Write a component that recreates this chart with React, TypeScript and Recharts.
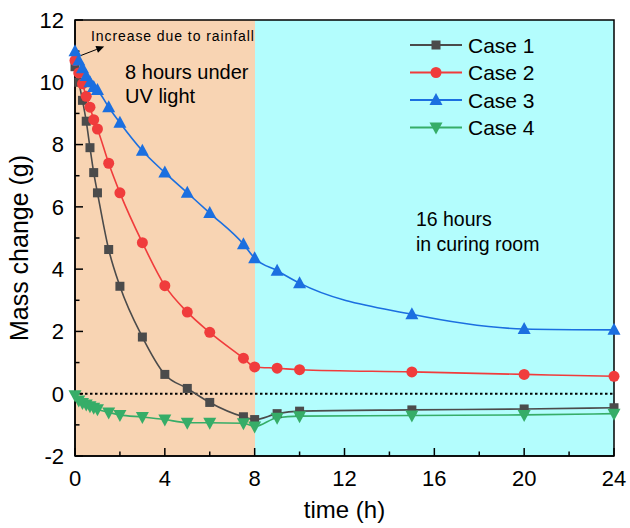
import React from "react";
import { LineChart, Line, XAxis, YAxis, CartesianGrid, ReferenceArea, ReferenceLine, ReferenceDot, Legend } from "recharts";

// sampling times (h)
const times = [0, 0.167, 0.333, 0.5, 0.667, 0.833, 1, 1.5, 2, 3, 4, 5, 6, 7.5, 8, 9, 10, 15, 20, 24];
// mass change (g)
const case1 = [10.5, 10.0, 9.42, 8.75, 7.9, 7.1, 6.45, 4.63, 3.45, 1.82, 0.62, 0.17, -0.28, -0.74, -0.83, -0.64, -0.56, -0.52, -0.49, -0.45];
const case2 = [10.7, 10.3, 9.95, 9.55, 9.2, 8.8, 8.5, 7.4, 6.45, 4.85, 3.47, 2.62, 1.97, 1.14, 0.86, 0.82, 0.77, 0.7, 0.62, 0.56];
const case3 = [11.0, 10.7, 10.45, 10.2, 10.0, 9.85, 9.75, 9.2, 8.7, 7.8, 7.1, 6.45, 5.8, 4.8, 4.35, 3.95, 3.55, 2.55, 2.08, 2.05];
const case4 = [-0.05, -0.22, -0.3, -0.35, -0.4, -0.45, -0.5, -0.6, -0.68, -0.75, -0.83, -0.93, -0.93, -0.95, -1.05, -0.77, -0.72, -0.7, -0.68, -0.64];

const xMajor = [0, 4, 8, 12, 16, 20, 24];
const xMinor = [2, 6, 10, 14, 18, 22];
const yMajor = [-2, 0, 2, 4, 6, 8, 10, 12];
const yMinor = [-1, 1, 3, 5, 7, 9, 11];
const uvEnd = 8;
const tEnd = 24;
const yMin = -2;
const yMax = 12;

const series = [
  { key: "case1", name: "Case 1", color: "#4b4b4b", shape: "square" },
  { key: "case2", name: "Case 2", color: "#f03c3c", shape: "circle" },
  { key: "case3", name: "Case 3", color: "#1b6fe0", shape: "up" },
  { key: "case4", name: "Case 4", color: "#36ad68", shape: "down" },
];

const data = times.map((t, i) => ({ t, case1: case1[i], case2: case2[i], case3: case3[i], case4: case4[i] }));

const FONT = "'Liberation Sans', Arial, sans-serif";

function Marker({ cx, cy, shape, color }: any) {
  if (cx == null || cy == null) return null;
  if (shape === "square") return <rect x={cx - 4.5} y={cy - 4.5} width={9} height={9} fill={color} />;
  if (shape === "circle") return <circle cx={cx} cy={cy} r={5.5} fill={color} />;
  if (shape === "up")
    return <polygon points={`${cx},${cy - 7} ${cx + 6.5},${cy + 5} ${cx - 6.5},${cy + 5}`} fill={color} />;
  return <polygon points={`${cx},${cy + 7} ${cx + 6.5},${cy - 5} ${cx - 6.5},${cy - 5}`} fill={color} />;
}

function Note({ viewBox, lines, size, gap, stretch }: any) {
  const { x, y } = viewBox;
  return (
    <g>
      {lines.map((l: string, i: number) => (
        <text
          key={l}
          x={x}
          y={y + i * gap}
          fontSize={size}
          fill="#000"
          {...(stretch ? { textLength: stretch, lengthAdjust: "spacing" } : {})}
        >
          {l}
        </text>
      ))}
    </g>
  );
}

function Arrow({ x1, y1, x2, y2 }: any) {
  const a = Math.atan2(y2 - y1, x2 - x1);
  const L = 8;
  const w = 3.5;
  const bx = x2 - L * Math.cos(a);
  const by = y2 - L * Math.sin(a);
  const px = -Math.sin(a) * w;
  const py = Math.cos(a) * w;
  return (
    <g>
      <line x1={x1} y1={y1} x2={bx} y2={by} stroke="#000" strokeWidth={1} />
      <polygon points={`${x2},${y2} ${bx + px},${by + py} ${bx - px},${by - py}`} fill="#000" />
    </g>
  );
}

// inward axis ticks; the segment spans the plot corner to corner, (0,yMin) -> (tEnd,yMax)
function InwardTicks({ x1, y1, x2, y2 }: any) {
  const tx = (t: number) => x1 + ((x2 - x1) * t) / tEnd;
  const vy = (v: number) => y1 + ((y2 - y1) * (v - yMin)) / (yMax - yMin);
  const s = { stroke: "#000", strokeWidth: 1.5 };
  return (
    <g>
      {xMajor.map((t) => <line key={`xM${t}`} x1={tx(t)} x2={tx(t)} y1={y1} y2={y1 - 8} {...s} />)}
      {xMinor.map((t) => <line key={`xm${t}`} x1={tx(t)} x2={tx(t)} y1={y1} y2={y1 - 4.5} {...s} />)}
      {yMajor.map((v) => <line key={`yM${v}`} x1={x1} x2={x1 + 8} y1={vy(v)} y2={vy(v)} {...s} />)}
      {yMinor.map((v) => <line key={`ym${v}`} x1={x1} x2={x1 + 4.5} y1={vy(v)} y2={vy(v)} {...s} />)}
    </g>
  );
}

function LegendBox() {
  return (
    <svg width={150} height={112} style={{ fontFamily: FONT }}>
      {series.map((s, i) => {
        const cy = 13 + i * 27.5;
        return (
          <g key={s.key}>
            <line x1={2} x2={54} y1={cy} y2={cy} stroke={s.color} strokeWidth={2} />
            <Marker cx={28} cy={cy} shape={s.shape} color={s.color} />
            <text x={60} y={cy} dy="0.36em" fontSize={21} fill="#000">
              {s.name}
            </text>
          </g>
        );
      })}
    </svg>
  );
}

// phase bands as grid stripes, split where the UV phase ends
const phaseEdges = ({ xAxis, offset }: any) => {
  const px = (t: number) =>
    xAxis && typeof xAxis.scale === "function"
      ? xAxis.scale(t)
      : offset.left + (t / tEnd) * offset.width;
  return [px(0), px(uvEnd)];
};

const axisFont = { fontSize: 22, fill: "#000" };

export default function App() {
  return (
    <div style={{ position: "absolute", left: 0, top: 0, width: 630, height: 528, background: "#fff", fontFamily: FONT }}>
      <LineChart width={630} height={528} data={data} margin={{ top: 20, right: 16, bottom: 0, left: 0 }}>
        <CartesianGrid
          horizontal={false}
          vertical
          stroke="transparent"
          verticalFill={["#f8d4b3", "#b3fdfd"]}
          fillOpacity={1}
          verticalCoordinatesGenerator={phaseEdges}
        />
        <ReferenceLine y={0} stroke="#000" strokeWidth={2} strokeDasharray="2.5 2.5" />
        <ReferenceLine
          segment={[
            { x: 0, y: yMin },
            { x: tEnd, y: yMax },
          ]}
          ifOverflow="visible"
          shape={(p: any) => <InwardTicks {...p} />}
        />
        <ReferenceLine
          segment={[
            { x: 0.12, y: 10.82 },
            { x: 1.3, y: 11.15 },
          ]}
          shape={(p: any) => <Arrow {...p} />}
        />
        <XAxis
          dataKey="t"
          type="number"
          domain={[0, tEnd]}
          ticks={xMajor}
          interval={0}
          tick={axisFont}
          tickSize={-8}
          tickMargin={22}
          tickLine={false}
          axisLine={{ stroke: "#000", strokeWidth: 1.5 }}
          height={72}
          label={{ value: "time (h)", position: "insideBottom", offset: 10, fontSize: 24, fill: "#000" }}
        />
        <YAxis
          type="number"
          domain={[yMin, yMax]}
          ticks={yMajor}
          interval={0}
          tick={axisFont}
          tickSize={-8}
          tickMargin={19}
          tickLine={false}
          axisLine={{ stroke: "#000", strokeWidth: 1.5 }}
          width={75}
          label={{
            content: () => (
              <text x={28} y={248} transform="rotate(-90 28 248)" textAnchor="middle" fontSize={25} fill="#000">
                Mass change (g)
              </text>
            ),
          }}
        />
        <ReferenceArea x1={0} x2={tEnd} y1={yMin} y2={yMax} fill="none" stroke="#000" strokeWidth={1.5} />
        <ReferenceDot
          x={0.71}
          y={11.33}
          r={0}
          fill="none"
          stroke="none"
          label={<Note lines={["Increase due to rainfall"]} size={14} gap={0} stretch={163} />}
        />
        <ReferenceDot
          x={2.23}
          y={10.1}
          r={0}
          fill="none"
          stroke="none"
          label={<Note lines={["8 hours under", "UV light"]} size={20} gap={24} />}
        />
        <ReferenceDot
          x={15.18}
          y={5.38}
          r={0}
          fill="none"
          stroke="none"
          label={<Note lines={["16 hours", "in curing room"]} size={19.5} gap={25} />}
        />
        {series.map((s) => (
          <Line
            key={s.key}
            dataKey={s.key}
            name={s.name}
            type="monotone"
            stroke={s.color}
            strokeWidth={1.6}
            dot={(p: any) => <Marker key={`${s.key}-${p.index}`} cx={p.cx} cy={p.cy} shape={s.shape} color={s.color} />}
            activeDot={false}
            isAnimationActive={false}
          />
        ))}
        <Legend
          layout="horizontal"
          verticalAlign="middle"
          align="center"
          content={() => <LegendBox />}
          wrapperStyle={{ position: "absolute", left: 408, top: 32, width: 150, height: 112 }}
        />
      </LineChart>
    </div>
  );
}
